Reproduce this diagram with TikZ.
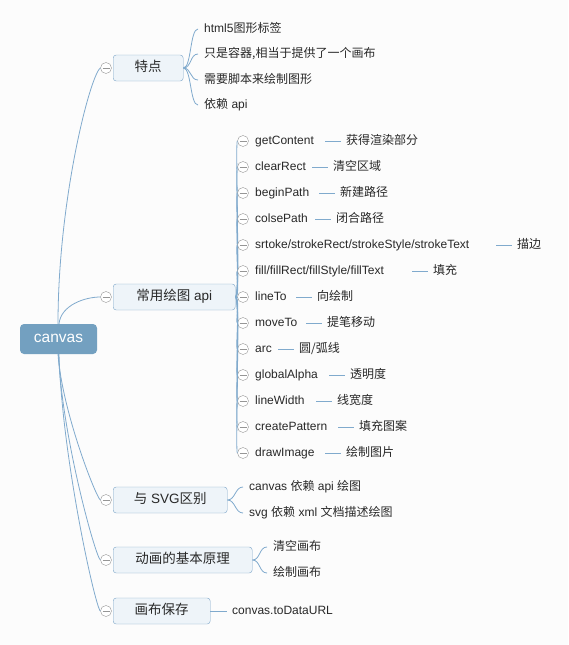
\documentclass[tikz,border=0pt]{standalone}
\usepackage{fontspec}
\setmainfont{Liberation Sans}
\newfontfamily\cjk{Noto Sans CJK SC}
\newcommand{\zh}[1]{{\cjk #1}}
\definecolor{rootblue}{RGB}{115,160,192}
\definecolor{linkblue}{RGB}{128,170,205}
\definecolor{topicline}{RGB}{125,165,200}
\definecolor{topicfill}{RGB}{238,244,249}
\definecolor{foldgray}{RGB}{150,150,150}
\definecolor{txt}{RGB}{40,40,40}
\definecolor{bg}{RGB}{252,252,252}
\tikzset{
  root/.style={fill=rootblue, rounded corners=4pt, text=white, minimum width=77pt,
    minimum height=30pt, inner sep=0pt, text height=11pt, text depth=3.5pt,
    font=\fontsize{15.5}{18}\selectfont},
  topic/.style={draw=topicline, fill=topicfill, rounded corners=3pt, anchor=west,
    minimum height=26pt, inner sep=0pt, text height=10pt, text depth=3pt, text=txt,
    font=\fontsize{13.5}{16}\selectfont},
  leaf/.style={anchor=west, inner sep=0pt, text height=9pt, text depth=3pt, text=txt,
    font=\fontsize{12}{14}\selectfont},
  fold/.style={circle, draw=foldgray, fill=white, minimum size=11pt, inner sep=0pt,
    path picture={\draw[foldgray, line width=.8pt]
      ([xshift=-3.5pt]path picture bounding box.center) --
      ([xshift=3.5pt]path picture bounding box.center);}},
  link/.style={draw=linkblue, line width=.8pt},
}
\begin{document}
\begin{tikzpicture}[x=1pt,y=-1pt]
  \useasboundingbox[fill=bg] (0,0) rectangle (568,645);
  % central topic
  \node[root] (canvas) at (58.5,339) {canvas};
  % main topics
  \node[fold] (f1) at (106,68) {};
  \node[topic, minimum width=70pt] (tedian) at (113,68) {\zh{特点}};
  \node[fold] (f2) at (106,297) {};
  \node[topic, minimum width=122pt] (api) at (113,297) {\zh{常用绘图} api};
  \node[fold] (f3) at (106,500) {};
  \node[topic, minimum width=114pt] (svg) at (113,500) {\zh{与} SVG\zh{区别}};
  \node[fold] (f4) at (106,560) {};
  \node[topic, minimum width=139pt] (anim) at (113,560) {\zh{动画的基本原理}};
  \node[fold] (f5) at (106,611) {};
  \node[topic, minimum width=97pt] (save) at (113,611) {\zh{画布保存}};
  % root branches
  \draw[link] ([xshift=-.5pt]canvas.north) .. controls (58,200) and (90,76) .. (f1.west);
  \draw[link] ([xshift=.5pt]canvas.north) .. controls (61,305) and (85,297) .. (f2.west);
  \draw[link] ([xshift=-.5pt]canvas.south) .. controls (62,410) and (95,495) .. (f3.west);
  \draw[link] (canvas.south) .. controls (62,436) and (95,555) .. (f4.west);
  \draw[link] ([xshift=.5pt]canvas.south) .. controls (62,457) and (95,606) .. (f5.west);

  % 特点
  \node[leaf] (t1) at (204,29) {html5\zh{图形标签}};
  \node[leaf] (t2) at (204,54) {\zh{只是容器,相当于提供了一个画布}};
  \node[leaf] (t3) at (204,80) {\zh{需要脚本来绘制图形}};
  \node[leaf] (t4) at (204,105) {\zh{依赖} api};
  \foreach \k in {1,...,4}
    \draw[link] (tedian.east) .. controls +(8,0) and +(-8,0) .. ([xshift=-6pt]t\k.west);

  % 常用绘图 api
  \foreach \i/\name/\desc/\dx in {
      1/{getContent}/{获得渲染部分}/346,
      2/{clearRect}/{清空区域}/333,
      3/{beginPath}/{新建路径}/340,
      4/{colsePath}/{闭合路径}/336,
      5/{srtoke/strokeRect/strokeStyle/strokeText}/{描边}/517,
      6/{fill/fillRect/fillStyle/fillText}/{填充}/433,
      7/{lineTo}/{向绘制}/317,
      8/{moveTo}/{提笔移动}/327,
      9/{arc}/{圆/弧线}/299,
      10/{globalAlpha}/{透明度}/350,
      11/{lineWidth}/{线宽度}/337,
      12/{createPattern}/{填充图案}/359,
      13/{drawImage}/{绘制图片}/346} {
    \pgfmathsetmacro{\yy}{141+26*(\i-1)}
    \node[fold] (c\i) at (243,\yy) {};
    \node[leaf] (k\i) at (255,\yy) {\name};
    \node[leaf] (d\i) at (\dx,\yy) {\zh{\desc}};
    \draw[link] (api.east) .. controls +(5,0) and +(-2,0) .. (c\i.west);
    \draw[link, line width=.6pt] ([xshift=-21pt]d\i.west) -- ([xshift=-5pt]d\i.west);
  }

  % 与 SVG区别
  \node[leaf] (s1) at (249,487) {canvas \zh{依赖} api \zh{绘图}};
  \node[leaf] (s2) at (249,513) {svg \zh{依赖} xml \zh{文档描述绘图}};
  \foreach \k in {1,2}
    \draw[link] (svg.east) .. controls +(8,0) and +(-8,0) .. ([xshift=-6pt]s\k.west);

  % 动画的基本原理
  \node[leaf] (a1) at (273,547) {\zh{清空画布}};
  \node[leaf] (a2) at (273,573) {\zh{绘制画布}};
  \foreach \k in {1,2}
    \draw[link] (anim.east) .. controls +(8,0) and +(-8,0) .. ([xshift=-6pt]a\k.west);

  % 画布保存
  \node[leaf] (u1) at (232,611) {convas.toDataURL};
  \draw[link] (save.east) -- ([xshift=-5pt]u1.west);
\end{tikzpicture}
\end{document}
